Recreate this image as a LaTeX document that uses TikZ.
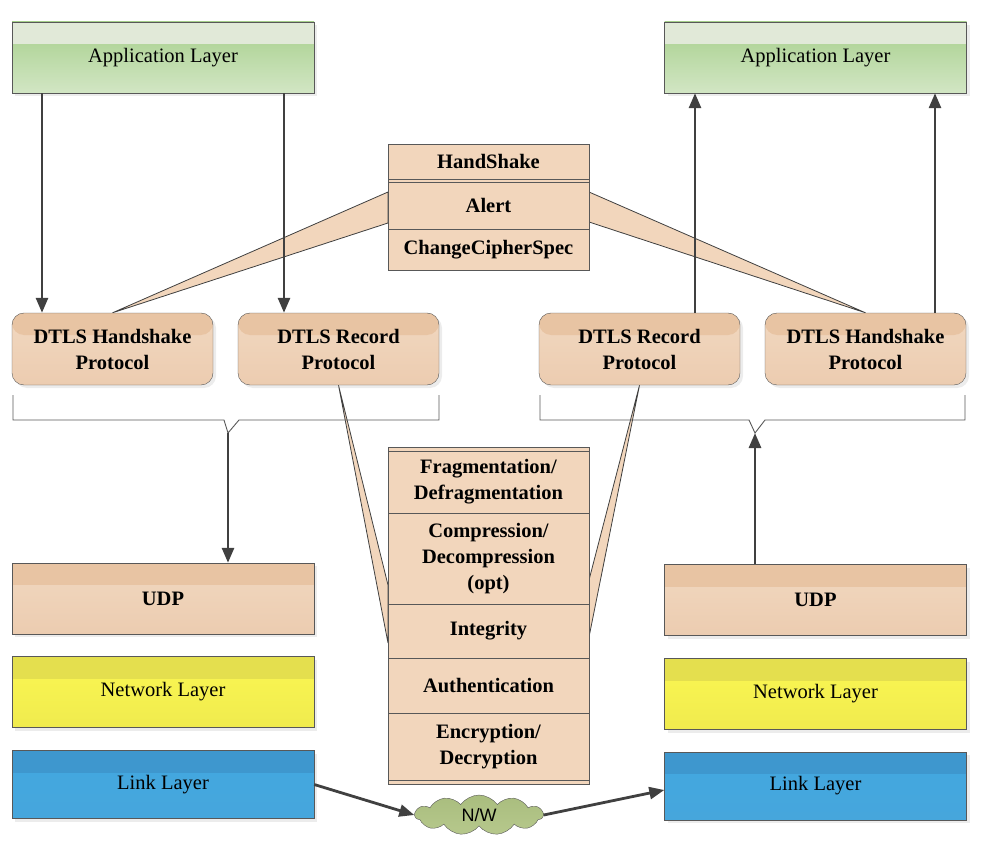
\documentclass[tikz,border=0pt]{standalone}
\usepackage{fontspec}
\setmainfont{Liberation Serif}
\newfontfamily\cloudfont{Liberation Sans}
\usepackage{tikz}
\usetikzlibrary{arrows.meta, positioning, calc, fit, shapes.symbols, shadows, backgrounds}
\definecolor{mydark}{RGB}{64,64,64}
\definecolor{myborder}{RGB}{88,88,88}
\definecolor{appband}{RGB}{225,233,216}
\definecolor{apptop}{RGB}{166,207,139}
\definecolor{appbot}{RGB}{210,230,196}
\definecolor{tanband}{RGB}{232,196,163}
\definecolor{tantop}{RGB}{241,216,192}
\definecolor{tanbot}{RGB}{236,204,176}
\definecolor{tanfill}{RGB}{242,214,188}
\definecolor{netband}{RGB}{228,223,78}
\definecolor{nettop}{RGB}{251,247,82}
\definecolor{netbot}{RGB}{240,235,78}
\definecolor{linkband}{RGB}{62,151,206}
\definecolor{linktop}{RGB}{66,168,224}
\definecolor{linkbot}{RGB}{70,166,220}
\definecolor{cloudgreen}{RGB}{169,189,126}
\definecolor{cloudlight}{RGB}{182,200,140}
\tikzset{
  topband/.style={path picture={\fill[#1] (path picture bounding box.north west)
    rectangle ([yshift=-22pt]path picture bounding box.north east);}},
  layerbox/.style={rectangle, draw=myborder, minimum width=302pt, minimum height=71pt,
    inner sep=0pt, font=\fontsize{20.5}{26}\selectfont,
    drop shadow={opacity=0.15, shadow xshift=3pt, shadow yshift=-3pt}},
  appbox/.style={layerbox, top color=apptop, bottom color=appbot, topband=appband},
  udpbox/.style={layerbox, top color=tantop, bottom color=tanbot, topband=tanband,
    font=\fontsize{20.5}{26}\selectfont\bfseries},
  netbox/.style={layerbox, top color=nettop, bottom color=netbot, topband=netband},
  linkbox/.style={layerbox, minimum height=68pt, top color=linktop, bottom color=linkbot,
    topband=linkband},
  dtlsbox/.style={rectangle, draw=myborder, rounded corners=12pt, minimum width=201pt,
    minimum height=72pt, align=center, inner sep=0pt,
    font=\fontsize{20.5}{26}\selectfont\bfseries,
    top color=tantop, bottom color=tanbot, topband=tanband,
    drop shadow={opacity=0.15, shadow xshift=3pt, shadow yshift=-3pt}},
  stackrow/.style={rectangle, draw=myborder, fill=tanfill, minimum width=201pt,
    inner sep=0pt, outer sep=0pt, align=center,
    font=\fontsize{20.5}{26}\selectfont\bfseries},
  stackframe/.style={rectangle, draw=myborder, fill=tanfill, inner sep=0pt},
  wedge/.style={draw=mydark, fill=tanfill, line width=0.8pt, line join=miter},
  bracepath/.style={draw=myborder, line width=0.9pt},
  cloudnode/.style={cloud, cloud puffs=11, cloud puff arc=110, aspect=3.2,
    draw=myborder, top color=cloudgreen, bottom color=cloudlight,
    minimum width=128pt, minimum height=40pt, inner sep=0pt,
    font=\cloudfont\fontsize{18}{20}\selectfont},
  arrow/.style={-{Triangle[width=12pt, length=15pt]}, line width=2.8pt, color=mydark}
}

\begin{document}
\begin{tikzpicture}[x=1pt, y=-1pt]
  \useasboundingbox (0,0) rectangle (982,850);

  % Sender side
  \node[appbox] (appL) at (163,57.5) {Application Layer};
  \node[dtlsbox] (hsL) at (112.5,349) {DTLS Handshake\\Protocol};
  \node[dtlsbox] (recL) at (338.5,349) {DTLS Record\\Protocol};
  \node[udpbox] (udpL) at (163,598.5) {UDP};
  \node[netbox] (netL) at (163,692) {Network Layer};
  \node[linkbox] (linkL) at (163,784.5) {Link Layer};

  % Receiver side
  \node[appbox] (appR) at (815.5,57.5) {Application Layer};
  \node[dtlsbox] (recR) at (639.5,349) {DTLS Record\\Protocol};
  \node[dtlsbox] (hsR) at (865.5,349) {DTLS Handshake\\Protocol};
  \node[udpbox] (udpR) at (815.5,600) {UDP};
  \node[netbox] (netR) at (815.5,694) {Network Layer};
  \node[linkbox] (linkR) at (815.5,786) {Link Layer};

  % Handshake message types
  \node[stackrow, minimum height=35pt] (hshk) at (488.5,161.5) {HandShake};
  \node[stackrow, minimum height=47pt, below=3pt of hshk] (alert) {Alert};
  \node[stackrow, minimum height=41pt, below=0pt of alert] (ccs) {ChangeCipherSpec};

  % Record protocol operations
  \node[stackrow, minimum height=62pt] (frag) at (488.5,482) {Fragmentation/\\Defragmentation};
  \node[stackrow, minimum height=91pt, below=0pt of frag] (comp) {Compression/\\Decompression\\(opt)};
  \node[stackrow, minimum height=54pt, below=0pt of comp] (integ) {Integrity};
  \node[stackrow, minimum height=55pt, below=0pt of integ] (auth) {Authentication};
  \node[stackrow, minimum height=67pt, below=0pt of auth] (encr) {Encryption/\\Decryption};

  % Network cloud
  \node[cloudnode] (nw) at (479,815) {N/W};

  \begin{scope}[on background layer]
    % callouts
    \draw[wedge] (hsL.north) -- ([yshift=13.5pt]alert.west) -- ([yshift=-17.5pt]alert.west) -- cycle;
    \draw[wedge] (hsR.north) -- ([yshift=13.5pt]alert.east) -- ([yshift=-16.5pt]alert.east) -- cycle;
    \draw[wedge] (recL.south) -- ([yshift=-26.5pt]comp.west) -- ([yshift=-12pt]integ.west) -- cycle;
    \draw[wedge] (recR.south) -- ([yshift=-21.5pt]comp.east) -- ([yshift=-6pt]integ.east) -- cycle;
    % stack frames
    \node[stackframe, fit=(hshk)(ccs)] (topstack) {};
    \node[stackframe, fit=(frag)(encr), inner ysep=4pt] (recstack) {};
  \end{scope}

  % Braces under the DTLS protocols
  \coordinate (tipL) at (228,433);
  \coordinate (tipR) at (755,433);
  \draw[bracepath] (13,395) -- (13,420) -- (224,420) -- (tipL) -- (239,420) -- (439,420) -- (439,395);
  \draw[bracepath] (540,395) -- (540,420) -- (749,420) -- (tipR) -- (765,420) -- (965,420) -- (965,395);

  % Data flow
  \draw[arrow] ([xshift=-121pt]appL.south) -- ([xshift=-70.5pt]hsL.north);
  \draw[arrow] ([xshift=121pt]appL.south) -- ([xshift=-54.5pt]recL.north);
  \draw[arrow] ([xshift=55.5pt]recR.north) -- ([xshift=-120.5pt]appR.south);
  \draw[arrow] ([xshift=69.5pt]hsR.north) -- ([xshift=119.5pt]appR.south);
  \draw[arrow] (tipL) -- (tipL |- udpL.north);
  \draw[arrow] (tipR |- udpR.north) -- (tipR);
  \draw[arrow] (linkL.east) -- (nw.west);
  \draw[arrow] (nw.east) -- ([yshift=-4pt]linkR.west);
\end{tikzpicture}
\end{document}
